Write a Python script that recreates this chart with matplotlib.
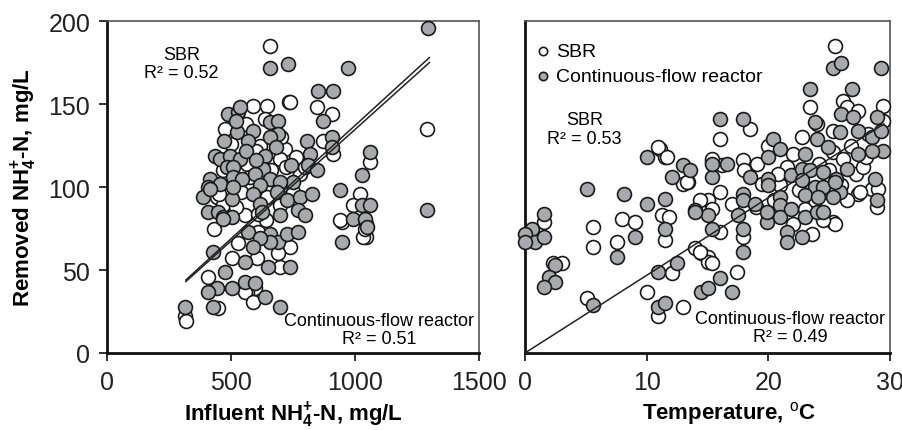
import matplotlib
matplotlib.use("Agg")
import matplotlib.pyplot as plt
import numpy as np
from matplotlib import font_manager

# left panel: influent NH4+-N (mg/L) vs removed NH4+-N (mg/L)
sbr_infl = [733, 588, 645, 846, 907, 476, 637, 617, 870, 911, 717, 564, 697, 468, 778, 576,
            443, 645, 697, 468, 556, 1060, 1020, 991, 947, 1040, 609, 504, 605, 697, 407, 596,
            564, 314, 447, 657, 737, 1290, 318, 556, 588, 737, 520, 660, 600, 750, 540, 690,
            430, 480, 640, 720, 800, 1045, 1045, 940, 1032, 1040, 500, 560, 620, 700, 760, 450,
            530, 610]
sbr_infl_rem = [151, 149, 149, 148, 144, 135, 141, 125, 128, 120, 123, 114, 117, 110, 108, 106,
                94, 94, 89, 89, 83, 115, 96, 89, 79, 72, 73, 57, 57, 52, 46, 39,
                37, 22, 27, 185, 151, 135, 19, 37, 31, 64, 88, 110, 122, 97, 97, 60,
                75, 117, 80, 112, 112, 78, 70, 80, 70, 75, 126, 138, 113, 130, 118, 96,
                66, 84]

cfr_infl = [850, 911, 870, 488, 528, 536, 524, 588, 657, 689, 689, 657, 568, 806, 907, 907,
            818, 435, 455, 496, 536, 637, 484, 508, 629, 596, 657, 810, 846, 750, 697, 415,
            407, 455, 508, 544, 617, 387, 504, 588, 685, 725, 778, 826, 617, 407, 447, 468,
            504, 625, 697, 770, 798, 939, 1028, 1060, 1028, 1060, 991, 1040, 1048, 947, 568, 657,
            689, 725, 770, 657, 617, 588, 427, 556, 649, 737, 476, 443, 407, 504, 556, 596,
            637, 314, 427, 697, 657, 729, 1294, 971, 1290, 415, 468, 508, 560, 600, 680, 740,
            470, 520]
cfr_infl_rem = [158, 158, 140, 144, 145, 148, 133, 134, 139, 140, 132, 130, 128, 128, 130, 124,
                120, 119, 117, 119, 117, 119, 112, 112, 111, 108, 105, 113, 110, 103, 103, 105,
                100, 102, 106, 105, 101, 94, 93, 96, 97, 92, 94, 96, 90, 85, 85, 82,
                82, 85, 83, 86, 83, 98, 107, 121, 89, 89, 81, 81, 76, 67, 73, 72,
                67, 72, 73, 67, 69, 64, 61, 55, 52, 52, 49, 39, 37, 39, 43, 42,
                34, 28, 28, 28, 172, 174, 196, 172, 86, 99, 81, 100, 122, 116, 124, 113,
                128, 140]

# right panel: temperature (oC) vs removed NH4+-N (mg/L)
sbr_temp = [11.1, 11.5, 13.0, 13.4, 15.4, 15.0, 8.0, 9.0, 11.3, 11.8, 11.5, 7.6, 5.6, 5.6, 1.6, 2.3,
            3.0, 5.1, 10.0, 12.1, 10.9, 13.0, 14.0, 14.5, 15.0, 15.0, 23.4, 26.1, 26.5, 27.4, 29.4, 18.5,
            16.0, 25.3, 25.3, 26.1, 16.2, 17.9, 19.1, 21.0, 28.5, 29.0, 27.4, 28.9, 16.0, 17.0, 20.0, 23.0,
            25.3, 16.0, 17.9, 23.6, 17.4, 25.5, 10.9, 11.7, 15.4, 13.3, 27.5, 25.5, 14.4, 15.4, 15.4, 14.4,
            22.0, 24.2, 26.8, 27.2, 19.5, 22.5, 25.0, 21.5, 23.8, 26.5, 20.5, 19.0, 24.5, 22.0, 27.8, 28.2,
            24.0, 20.0, 18.0, 22.8, 26.0, 29.4, 28.0, 20.8]
sbr_temp_rem = [123, 118, 102, 103, 115, 92, 81, 79, 83, 82, 68, 67, 76, 64, 79, 54,
                54, 33, 37, 48, 22, 28, 63, 60, 58, 55, 148, 152, 148, 146, 149, 135,
                129, 134, 121, 117, 113, 116, 114, 101, 99, 99, 96, 88, 97, 90, 84, 87,
                79, 73, 70, 72, 49, 185, 124, 118, 117, 103, 97, 78, 61, 54, 87, 92,
                120, 114, 125, 108, 102, 98, 110, 112, 92, 92, 92, 88, 80, 78, 112, 132,
                138, 125, 110, 130, 101, 140, 118, 108]

cfr_temp = [10.0, 13.0, 13.6, 12.1, 15.4, 5.1, 8.1, 10.0, 11.5, 14.0, 15.0, 11.5, 9.0, 7.6, 1.6, 0.6,
            0.0, 0.8, 0.0, 1.6, 2.5, 2.0, 2.5, 1.6, 5.6, 10.9, 12.5, 10.9, 11.5, 14.5, 15.0, 15.4,
            16.0, 23.4, 26.9, 26.0, 27.0, 28.9, 16.0, 17.9, 23.8, 20.4, 21.0, 24.0, 24.9, 25.9, 27.4, 28.5,
            29.3, 29.4, 28.5, 27.4, 23.0, 26.5, 20.0, 15.4, 16.6, 18.5, 20.0, 21.9, 22.8, 23.4, 24.5, 25.6,
            20.0, 22.8, 23.8, 24.5, 23.0, 28.8, 25.9, 25.3, 24.1, 28.9, 17.9, 17.9, 18.9, 21.0, 21.0, 19.9,
            21.0, 21.9, 23.0, 24.0, 24.5, 14.0, 17.5, 17.9, 21.5, 21.5, 22.8, 17.9, 17.0, 25.3, 26.0, 29.3,
            25.5, 19.9]
cfr_temp_rem = [118, 113, 110, 106, 106, 99, 96, 90, 93, 86, 83, 75, 70, 58, 84, 75,
                72, 67, 67, 70, 53, 46, 43, 40, 29, 49, 54, 28, 30, 37, 39, 75,
                45, 159, 159, 144, 142, 142, 141, 141, 139, 129, 123, 129, 124, 133, 134, 130,
                134, 122, 122, 120, 120, 111, 118, 114, 114, 106, 105, 107, 111, 110, 109, 105,
                101, 104, 100, 100, 95, 105, 97, 94, 94, 92, 96, 92, 90, 94, 89, 79,
                82, 87, 82, 85, 85, 85, 83, 75, 73, 67, 70, 61, 37, 172, 175, 172,
                103, 85]

# trend lines (slope, intercept, x range)
infl_sbr_fit = (0.1365, 0.6, 318, 1300)
infl_cfr_fit = (0.1344, 0.3, 318, 1300)
temp_fit = (4.68, 0.0, 0, 29.5)

names = {f.name for f in font_manager.fontManager.ttflist}
narrow = 'Liberation Sans Narrow' if 'Liberation Sans Narrow' in names else 'Liberation Sans'
plt.rcParams['font.family'] = ['Liberation Sans', 'DejaVu Sans']
plt.rcParams['mathtext.fontset'] = 'custom'
plt.rcParams['mathtext.rm'] = 'Liberation Sans'
plt.rcParams['mathtext.bf'] = 'Liberation Sans:bold'

gray = '#a7a9ac'
mk = dict(s=100, edgecolors='#1a1a1a', linewidths=1.2, clip_on=False, zorder=3)

fig = plt.figure(figsize=(9.03, 4.31), dpi=100)
ax1 = fig.add_axes([0.1185, 0.1787, 0.412, 0.770])
ax2 = fig.add_axes([0.5814, 0.1787, 0.4042, 0.770])

# left
ax1.scatter(sbr_infl, sbr_infl_rem, c='white', **mk)
ax1.scatter(cfr_infl, cfr_infl_rem, c=gray, **mk)
for m, b, x0, x1 in [infl_sbr_fit, infl_cfr_fit]:
    xx = np.array([x0, x1])
    ax1.plot(xx, m * xx + b, color='#222222', lw=1.1, zorder=4)
ax1.set_xlim(0, 1500)
ax1.set_ylim(0, 200)
ax1.set_xticks([0, 500, 1000, 1500])
ax1.set_yticks([0, 50, 100, 150, 200])
ax1.text(300, 185, 'SBR\nR² = 0.52', ha='center', va='top', fontsize=13, linespacing=1.1)
ax1.text(1096, 14, 'Continuous-flow reactor\nR² = 0.51', ha='center', va='center',
         fontsize=13, linespacing=1.1)
ax1.set_ylabel(r'Removed NH$_\mathbf{4}^\mathbf{+}$-N, mg/L', fontsize=16, fontweight='bold', labelpad=7)
ax1.set_xlabel(r'Influent NH$_\mathbf{4}^\mathbf{+}$-N, mg/L', fontsize=16, fontweight='bold',
               family=narrow, labelpad=4)

# right
ax2.scatter(sbr_temp, sbr_temp_rem, c='white', label='SBR', **mk)
ax2.scatter(cfr_temp, cfr_temp_rem, c=gray, label='Continuous-flow reactor', **mk)
m, b, x0, x1 = temp_fit
xx = np.array([x0, x1])
ax2.plot(xx, m * xx + b, color='#222222', lw=1.1, zorder=4)
ax2.set_xlim(0, 30)
ax2.set_ylim(0, 200)
ax2.set_xticks([0, 10, 20, 30])
ax2.set_yticks([])
ax2.text(4.9, 135, 'SBR\nR² = 0.53', ha='center', va='center', fontsize=13, linespacing=1.1)
ax2.text(21.8, 15.5, 'Continuous-flow reactor\nR² = 0.49', ha='center', va='center',
         fontsize=13, linespacing=1.1)
ax2.set_xlabel('Temperature, $^\\mathrm{o}$C', fontsize=16, fontweight='bold', family=narrow, labelpad=4)
ax2.xaxis.label.set_x(0.56)
ax2.legend(loc='upper left', bbox_to_anchor=(-0.005, 0.97), frameon=False, fontsize=14,
           markerscale=0.6, handlelength=0.8, handletextpad=0.3, labelspacing=0.35,
           borderaxespad=0.2)

for ax in (ax1, ax2):
    ax.tick_params(direction='out', length=6, width=1.3, labelsize=18, pad=6, colors='#222222')
    for lab in ax.get_xticklabels() + ax.get_yticklabels():
        lab.set_family(narrow)
    ax.spines['left'].set_linewidth(2)
    ax.spines['bottom'].set_linewidth(2)
    ax.spines['left'].set_color('#111111')
    ax.spines['bottom'].set_color('#111111')
    ax.spines['top'].set_linewidth(1.2)
    ax.spines['right'].set_linewidth(1.2)
    ax.spines['top'].set_color('#555555')
    ax.spines['right'].set_color('#555555')

fig.savefig('out.png', dpi=100)
